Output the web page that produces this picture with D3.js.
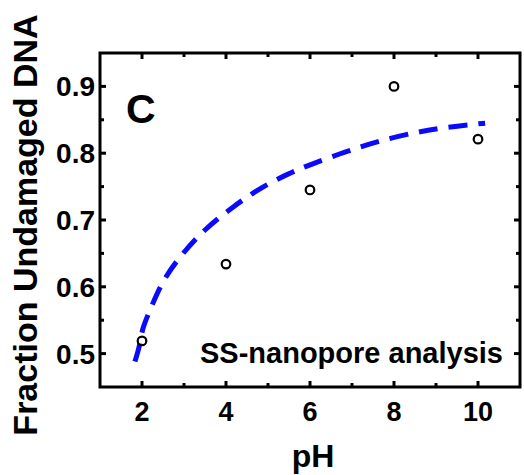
<!DOCTYPE html>
<html><head><meta charset="utf-8">
<script src="https://cdn.jsdelivr.net/npm/d3@7"></script>
<style>html,body{margin:0;padding:0;background:#fff;}svg{display:block;font-family:"Liberation Sans",Arial,sans-serif;font-weight:bold;}</style>
</head><body>
<svg id="chart" width="524" height="475"></svg>
<script>
const pH = [2, 4, 6, 8, 10];
const fraction = [0.519, 0.634, 0.745, 0.900, 0.821];
const fitX = [1.83, 1.95, 2.0, 2.19, 2.5, 2.95, 3.5, 4.17, 4.81, 5.5, 6.05, 6.88, 7.62, 8.55, 9.26, 10.17];
const fitY = [0.488, 0.512, 0.537, 0.565, 0.611, 0.649, 0.687, 0.720, 0.748, 0.770, 0.784, 0.803, 0.818, 0.832, 0.839, 0.845];
const xMajor = [2, 4, 6, 8, 10];
const xMinor = [3, 5, 7, 9];
const yMajor = [0.5, 0.6, 0.7, 0.8, 0.9];
const yMinor = [0.55, 0.65, 0.75, 0.85];

const svg = d3.select("#chart");
const L = 100, R = 520, T = 53, B = 387;
const x = d3.scaleLinear().domain([1, 11]).range([L, R]);
const y = d3.scaleLinear().domain([0.45, 0.95]).range([B, T]);

const g = svg.append("g");
g.append("rect").attr("x", L).attr("y", T).attr("width", R - L).attr("height", B - T)
  .attr("fill", "none").attr("stroke", "#000").attr("stroke-width", 3);

function ticks(vals, len) {
  vals.forEach(v => {
    g.append("line").attr("x1", x(v)).attr("x2", x(v)).attr("y1", B).attr("y2", B - len).attr("stroke", "#000").attr("stroke-width", 3);
    g.append("line").attr("x1", x(v)).attr("x2", x(v)).attr("y1", T).attr("y2", T + len).attr("stroke", "#000").attr("stroke-width", 3);
  });
}
function yticks(vals, len) {
  vals.forEach(v => {
    g.append("line").attr("y1", y(v)).attr("y2", y(v)).attr("x1", L).attr("x2", L + len).attr("stroke", "#000").attr("stroke-width", 3);
    g.append("line").attr("y1", y(v)).attr("y2", y(v)).attr("x1", R).attr("x2", R - len).attr("stroke", "#000").attr("stroke-width", 3);
  });
}
ticks(xMajor, 6); ticks(xMinor, 4);
yticks(yMajor, 6); yticks(yMinor, 4);

xMajor.forEach(v => {
  g.append("text").attr("x", x(v)).attr("y", 421).attr("text-anchor", "middle")
    .attr("font-size", 27).text(v);
});
yMajor.forEach(v => {
  g.append("text").attr("x", 95).attr("y", y(v) + 10).attr("text-anchor", "end")
    .attr("font-size", 28).text(d3.format(".1f")(v));
});

svg.append("text").attr("x", 313).attr("y", 467).attr("text-anchor", "middle")
  .attr("font-size", 32).text("pH");
svg.append("text").attr("transform", "translate(37,225) rotate(-90)").attr("text-anchor", "middle")
  .attr("font-size", 34).text("Fraction Undamaged DNA");

svg.append("text").attr("x", 126).attr("y", 123).attr("font-size", 41).text("C");
svg.append("text").attr("x", 200).attr("y", 363).attr("font-size", 29).text("SS-nanopore analysis");

const fitData = fitX.map((v, i) => [v, fitY[i]]);
svg.append("path").datum(fitData)
  .attr("d", d3.line().x(d => x(d[0])).y(d => y(d[1])).curve(d3.curveBasis))
  .attr("fill", "none").attr("stroke", "#0a0aff").attr("stroke-width", 5)
  .attr("stroke-dasharray", "19,11");

svg.selectAll("circle.pt").data(pH).enter().append("circle")
  .attr("cx", d => x(d)).attr("cy", (d, i) => y(fraction[i])).attr("r", 4.3)
  .attr("fill", "none").attr("stroke", "#000").attr("stroke-width", 2.2);
</script>
</body></html>
